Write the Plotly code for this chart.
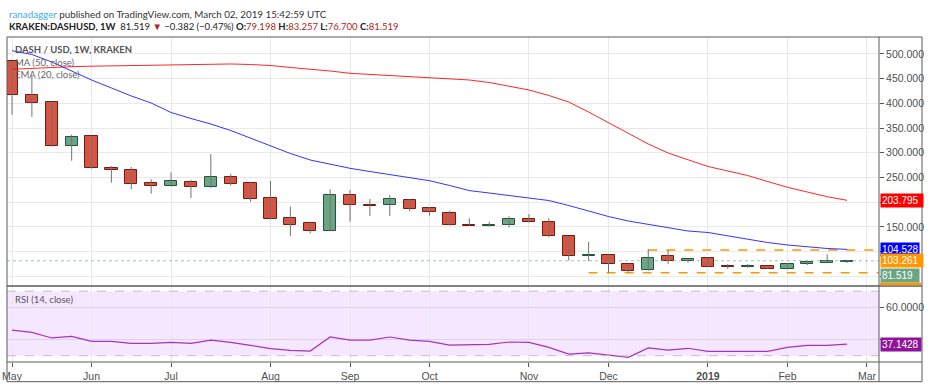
import plotly.graph_objects as go
import pandas as pd

# ---------------- data ----------------
weeks = pd.date_range("2018-05-07", periods=43, freq="7D")

opens = [485.8, 417, 403.5, 313, 333.4, 269, 264.6, 238.3, 233.4, 240.3, 230.2, 251, 238.3, 208, 167.4,
         158, 141.7, 214, 194.4, 193.8, 203.9, 187.7, 178.8, 154.5, 152.5, 153.9, 165.4, 159.4, 131, 90.6,
         93.2, 75.6, 62.8, 91.1, 81.7, 86.5, 70.9, 68.9, 70.2, 65.4, 74.3, 77, 79.198]
highs = [486, 457, 404, 336.7, 334.6, 273.3, 271.3, 246.4, 260.6, 245, 297.6, 257.7, 241.5, 243, 191,
         160.6, 226, 224.7, 206.5, 214.6, 206.5, 190.3, 182.9, 167.5, 160, 171.5, 176, 167.5, 131.5, 119.5,
         93.5, 76, 104.7, 102.7, 85.8, 88.5, 75, 75, 70.5, 76.3, 81.6, 94.6, 83.257]
lows = [377, 373, 312, 284, 268, 239.5, 226.7, 217.2, 231.5, 208.5, 228.8, 233.4, 201, 165, 131.6,
        137, 141, 160.6, 172, 172, 181.6, 172.7, 152.5, 152, 150.5, 149, 159, 129, 81.7, 81,
        57.5, 57.4, 61, 75, 77.6, 68.5, 65, 67.6, 65, 64, 73, 76.3, 76.7]
closes = [417, 400, 313, 331.4, 268.7, 264.6, 237.5, 233.4, 242.9, 230.2, 251, 237.5, 206, 166.7, 153.9,
          141.1, 214, 193.8, 191.7, 205.9, 185.6, 179.6, 153.9, 152.5, 154.5, 165.4, 159.4, 131, 90.5, 93.9,
          75.6, 61.4, 87.7, 81.1, 84.5, 68.9, 68.3, 71.5, 65.4, 75.6, 79, 80.4, 81.519]

ma50 = [469.0, 471.1, 472.7, 474.3, 475.3, 476.1, 476.7, 477.3, 477.7, 478.3, 479.2, 479.8, 478.7, 476.7, 472.7,
        469.6, 465.6, 460.9, 458.5, 456.5, 454.5, 452.0, 449.8, 447.4, 442.3, 435.2, 427.1, 416.0, 402.8, 382.6,
        361.3, 340.1, 317.8, 299.6, 285.4, 272.3, 263.2, 254.0, 241.9, 230.2, 220.6, 211.1, 203.795]
ema20 = [506.7, 499, 483.8, 465.6, 447.4, 431.2, 415, 400.8, 381.6, 369.4, 358.3, 345.1, 330, 313.8, 298.6,
         285.4, 277.3, 268.6, 262.1, 256.1, 250, 243.5, 233.9, 223.5, 218.6, 213.6, 208.9, 203.4, 193.3, 182.2,
         171, 161.9, 154.9, 147.8, 141.7, 138.7, 131.6, 124.9, 118.4, 113.4, 109.3, 106.3, 104.528]
rsi = [45.9, 44.5, 41, 42, 38.9, 38.9, 37.7, 37.7, 38.3, 37.7, 39.7, 38.3, 36.4, 34.4, 33.3,
       32.9, 41.6, 39.7, 39.7, 41.6, 39.7, 38.9, 36.6, 36.6, 37, 38.5, 38.3, 35.2, 31, 31.7,
       30.4, 29, 34.8, 33.5, 34.6, 32.7, 32.7, 32.9, 32.7, 35.2, 36.4, 36.4, 37.1428]

level_upper = 103.261
level_upper_start = "2018-12-17"
level_lower = 57.3
level_lower_start = "2018-11-26"
last_price = 81.519

month_ticks = ["2018-05-07", "2018-06-04", "2018-07-02", "2018-08-06", "2018-09-03", "2018-10-01",
               "2018-11-05", "2018-12-03", "2019-01-07", "2019-02-04", "2019-03-04"]
month_labels = ["May", "Jun", "Jul", "Aug", "Sep", "Oct", "Nov", "Dec", "<b>2019</b>", "Feb", "Mar"]
price_ticks = [50, 100, 150, 200, 250, 300, 350, 400, 450, 500]
price_labels = ["", "", "150.000", "", "250.000", "300.000", "350.000", "400.000", "450.000", "500.000"]

# ---------------- styling ----------------
X_RANGE = ["2018-05-05 05:45", "2019-03-08 05:30"]
UP_FILL, UP_LINE = "#6ba583", "#225437"
DN_FILL, DN_LINE = "#d75442", "#6f1d15"
WICK = "#737375"
GRID = "#e9e9ea"
BORDER = "#5a5a5a"
AXIS_FONT = dict(family="Liberation Sans, Arial, sans-serif", size=10.5, color="#4f4f4f")

fig = go.Figure()

# level lines (drawn first, behind candles)
end_date = X_RANGE[1]
fig.add_trace(go.Scatter(x=[X_RANGE[0], end_date], y=[last_price, last_price], mode="lines",
                         line=dict(color="#6ba583", width=1, dash="dot"), opacity=0.6, hoverinfo="skip"))
fig.add_trace(go.Scatter(x=[level_upper_start, end_date], y=[level_upper, level_upper], mode="lines",
                         line=dict(color="#ff9800", width=1.5, dash="dash"), hoverinfo="skip"))
fig.add_trace(go.Scatter(x=[level_lower_start, end_date], y=[level_lower, level_lower], mode="lines",
                         line=dict(color="#ff9800", width=1.5, dash="dash"), hoverinfo="skip"))

# moving averages
fig.add_trace(go.Scatter(x=weeks, y=ma50, mode="lines", line=dict(color="rgba(255,0,0,0.85)", width=1), hoverinfo="skip"))
fig.add_trace(go.Scatter(x=weeks, y=ema20, mode="lines", line=dict(color="rgba(0,0,255,0.8)", width=1), hoverinfo="skip"))

# wicks
wx, wy = [], []
for d, lo, hi in zip(weeks, lows, highs):
    wx += [d, d, None]
    wy += [lo, hi, None]
fig.add_trace(go.Scatter(x=wx, y=wy, mode="lines", line=dict(color=WICK, width=1), hoverinfo="skip"))

# bodies
body_w = 4.3 * 86400000
for up in (True, False):
    xs, base, h = [], [], []
    for d, o, c in zip(weeks, opens, closes):
        if (c >= o) == up:
            xs.append(d)
            base.append(min(o, c))
            h.append(abs(c - o))
    fig.add_trace(go.Bar(x=xs, y=h, base=base, width=body_w,
                         marker=dict(color=UP_FILL if up else DN_FILL,
                                     line=dict(color=UP_LINE if up else DN_LINE, width=1)),
                         hoverinfo="skip"))

# RSI
fig.add_trace(go.Scatter(x=weeks, y=rsi, mode="lines", line=dict(color="#a634bd", width=1.2),
                         xaxis="x2", yaxis="y2", hoverinfo="skip"))

P_BOT = 0.2354
R_TOP = 0.2329
fig.update_layout(
    template="none",
    width=934, height=392,
    margin=dict(l=7, r=55, t=37, b=30, autoexpand=False),
    paper_bgcolor="white", plot_bgcolor="white",
    showlegend=False, barmode="overlay", bargap=0,
    xaxis=dict(domain=[0, 1], range=X_RANGE, type="date", tickvals=month_ticks, ticktext=month_labels,
               showticklabels=False, showgrid=True, gridcolor=GRID, gridwidth=1, zeroline=False, showline=False,
               anchor="y", fixedrange=True, automargin=False),
    yaxis=dict(domain=[P_BOT, 1], range=[31.4, 534.4], side="right", tickvals=price_ticks, ticktext=price_labels,
               showgrid=True, gridcolor=GRID, gridwidth=1, zeroline=False, ticks="outside", ticklen=4,
               tickcolor="#555", tickfont=AXIS_FONT, anchor="x", automargin=False, showline=False),
    xaxis2=dict(domain=[0, 1], range=X_RANGE, type="date", matches="x", tickvals=month_ticks, ticktext=month_labels,
                showgrid=True, gridcolor=GRID, gridwidth=1, zeroline=False, ticks="outside", ticklen=4,
                tickcolor="#555", tickfont=AXIS_FONT, anchor="y2", automargin=False, showline=False),
    yaxis2=dict(domain=[0, R_TOP], range=[26.1, 73.0], side="right", tickvals=[40, 60], ticktext=["", "60.0000"],
                showgrid=True, gridcolor="#ded3e6", gridwidth=1, zeroline=False, ticks="outside", ticklen=4,
                tickcolor="#555", tickfont=AXIS_FONT, anchor="x2", automargin=False, showline=False),
)

RIGHT_EDGE = (922 - 7) / 872
BOTTOM_EDGE = (362 - 381.7) / 325
shapes = [
    # RSI band fill and dashed bounds
    dict(type="rect", xref="x2 domain", yref="y2", x0=0, x1=1, y0=30, y1=70,
         fillcolor="rgba(153,21,255,0.1)", line=dict(width=0), layer="below"),
    dict(type="line", xref="x2 domain", yref="y2", x0=0, x1=1, y0=70, y1=70,
         line=dict(color="#c3bdc9", width=1, dash="dash")),
    dict(type="line", xref="x2 domain", yref="y2", x0=0, x1=1, y0=30, y1=30,
         line=dict(color="#c3bdc9", width=1, dash="dash")),
    # frame
    dict(type="rect", xref="paper", yref="paper", x0=0, x1=RIGHT_EDGE, y0=BOTTOM_EDGE, y1=1,
         line=dict(color=BORDER, width=1)),
    dict(type="line", xref="paper", yref="paper", x0=1, x1=1, y0=BOTTOM_EDGE, y1=1,
         line=dict(color=BORDER, width=1)),
    dict(type="line", xref="paper", yref="paper", x0=0, x1=RIGHT_EDGE, y0=(P_BOT + R_TOP) / 2, y1=(P_BOT + R_TOP) / 2,
         line=dict(color=BORDER, width=1.5)),
    dict(type="line", xref="paper", yref="paper", x0=0, x1=RIGHT_EDGE, y0=0, y1=0,
         line=dict(color=BORDER, width=1)),
    # clipped orange price label at bottom of price panel
    dict(type="rect", xref="paper", yref="paper", x0=1.0011, x1=1.0482, y0=P_BOT + 0.001, y1=P_BOT + 0.0095,
         fillcolor="#ff9800", line=dict(width=0)),
]
fig.update_layout(shapes=shapes)

LBL_FONT = dict(family="Liberation Sans, Arial, sans-serif", size=10, color="white")
def price_label(val, color, yref="y", yshift=0, width=40):
    return dict(xref="paper", x=1, xanchor="left", xshift=1, yref=yref, y=val, yanchor="middle", yshift=yshift,
                text=f"{val:.3f}" if yref == "y" else f"{val:.4f}", showarrow=False, bgcolor=color,
                font=LBL_FONT, width=width, align="left", borderpad=1)

HDR = "Lato, Liberation Sans, sans-serif"
annotations = [
    price_label(ma50[-1], "#ff0000", width=40),
    price_label(ema20[-1], "#0000ff", width=36),
    price_label(level_upper, "#ff9800", yshift=-11, width=40),
    price_label(last_price, "#6ba583", yshift=-15, width=36),
    price_label(rsi[-1], "#8e1599", yref="y2", width=38),
    # header
    dict(xref="paper", yref="paper", x=0, y=1.0708, xanchor="left", yanchor="middle", showarrow=False,
         text="<span style='color:#3bb0e0'>ranadagger</span> published on TradingView.com, March 02, 2019 15:42:59 UTC",
         font=dict(family=HDR, size=9.8, color="#333")),
    dict(xref="paper", yref="paper", x=0, y=1.0323, xanchor="left", yanchor="middle", showarrow=False,
         text="<b>KRAKEN:DASHUSD, 1W</b>  81.519 <span style='color:#b02418'>▼</span> −0.382 (−0.47%) "
              "<b>O:</b><span style='color:#b02418'>79.198</span> <b>H:</b><span style='color:#b02418'>83.257</span> "
              "<b>L:</b><span style='color:#b02418'>76.700</span> <b>C:</b><span style='color:#b02418'>81.519</span>",
         font=dict(family=HDR, size=9.5, color="#222")),
    # in-chart legends
    dict(xref="paper", yref="paper", x=0.0069, y=0.9622, xanchor="left", yanchor="middle", showarrow=False,
         text="<b>DASH / USD, 1W, KRAKEN</b>", font=dict(family=HDR, size=9.5, color="#555")),
    dict(xref="paper", yref="paper", x=0.0069, y=0.9222, xanchor="left", yanchor="middle", showarrow=False,
         text="MA (50, close)", font=dict(family=HDR, size=9.5, color="#666")),
    dict(xref="paper", yref="paper", x=0.0069, y=0.8852, xanchor="left", yanchor="middle", showarrow=False,
         text="EMA (20, close)", font=dict(family=HDR, size=9.5, color="#666")),
    dict(xref="paper", yref="paper", x=0.0069, y=0.1938, xanchor="left", yanchor="middle", showarrow=False,
         text="RSI (14, close)", font=dict(family=HDR, size=9.5, color="#555")),
]
fig.update_layout(annotations=annotations)

fig.write_html("out.html", config={"displayModeBar": False},
               post_script="document.body.style.margin='0';document.body.style.padding='0';")
